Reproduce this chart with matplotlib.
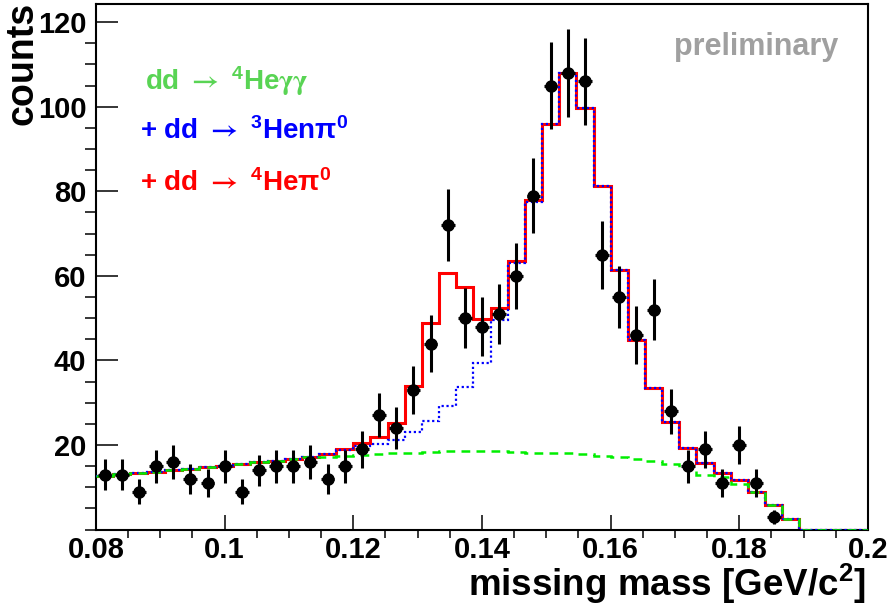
import numpy as np
import matplotlib
matplotlib.use("Agg")
import matplotlib.pyplot as plt
from matplotlib.ticker import MultipleLocator, FuncFormatter

plt.rcParams['font.family'] = ['Liberation Sans', 'DejaVu Sans']
plt.rcParams['font.weight'] = 'bold'
plt.rcParams['mathtext.fontset'] = 'custom'
plt.rcParams['mathtext.rm'] = 'Liberation Sans:bold'
plt.rcParams['mathtext.it'] = 'Liberation Sans:bold'
plt.rcParams['mathtext.bf'] = 'Liberation Sans:bold'
plt.rcParams['mathtext.sf'] = 'STIXGeneral'
plt.rcParams['mathtext.fallback'] = 'stix'

# binning: 45 bins between 0.08 and 0.2 GeV/c^2
x_min, x_max, n_bins = 0.08, 0.2, 45

# measured counts (first 40 bins, empty bins not drawn)
counts = [13, 13, 9, 15, 16, 12, 11, 15, 9, 14, 15, 15, 16, 12, 15, 19, 27, 24, 33, 44,
          72, 50, 48, 51, 60, 79, 105, 108, 106, 65, 55, 46, 52, 28, 15, 19, 11, 20, 11, 3]

# simulated contributions per bin
sim_he4_gg = [12.7, 13.1, 13.3, 13.7, 14.1, 14.4, 14.8, 15.0, 15.6, 15.9, 16.2, 16.6, 17.1,
              17.2, 17.3, 17.6, 17.8, 18.0, 18.2, 18.4, 18.6, 18.7, 18.7, 18.5, 18.3, 18.2,
              18.1, 18.0, 17.8, 17.4, 17.1, 16.7, 16.2, 15.5, 14.6, 12.9, 12.4, 10.8, 8.8,
              5.7, 2.5, 0, 0, 0, 0]
sim_he3_n_pi0 = [0, 0, 0, 0, 0, 0, 0, 0, 0, 0, 0, 0, 0,
                 0.6, 1.5, 2.2, 2.5, 3.2, 4.9, 7.3, 10.6, 15.1, 20.8, 31.1, 44.7, 59.3,
                 77.9, 89.9, 81.8, 63.9, 44.4, 28.1, 17.4, 10.0, 4.6, 2.8, 1.1, 0.9, 0,
                 0, 0, 0, 0, 0, 0]
sim_he4_pi0 = [0, 0, 0, 0, 0, 0, 0, 0, 0, 0, 0, 0, 0, 0,
               0.2, 0.6, 1.5, 4.1, 10.9, 23.2, 31.4, 23.6, 10.3, 2.7, 0.6, 0.4,
               0, 0, 0, 0, 0, 0, 0, 0, 0, 0, 0, 0, 0, 0, 0, 0, 0, 0, 0]

edges = np.linspace(x_min, x_max, n_bins + 1)
width = edges[1] - edges[0]
centers = 0.5 * (edges[:-1] + edges[1:])

gg = np.array(sim_he4_gg)
gg_hen = gg + np.array(sim_he3_n_pi0)
total = gg_hen + np.array(sim_he4_pi0)

W, H = 893, 609
fig = plt.figure(figsize=(W / 100, H / 100), dpi=100)
ax = fig.add_axes([96 / W, 1 - 529.6 / H, 772 / W, 525.6 / H])

ax.stairs(total, edges, baseline=None, color='#ff0000', lw=2.2, zorder=2)
ax.stairs(gg_hen, edges, baseline=None, color='#0000ff', lw=1.6,
          linestyle=(0, (1, 1.2)), zorder=3)
ax.stairs(gg, edges, baseline=None, color='#00ee00', lw=1.8,
          linestyle=(0, (3.5, 2.5)), zorder=4)

n = len(counts)
ax.errorbar(centers[:n], counts, yerr=np.sqrt(counts), xerr=0.4 * width,
            fmt='o', color='black', ms=8, elinewidth=2.2, capsize=0, zorder=5)

ax.set_xlim(x_min, x_max)
ax.set_ylim(0, 124.3)
ax.set_xticks(np.arange(0.08, 0.2001, 0.02))
ax.xaxis.set_minor_locator(MultipleLocator(0.005))
ax.set_yticks(np.arange(20, 121, 20))
ax.yaxis.set_minor_locator(MultipleLocator(5))
ax.xaxis.set_major_formatter(FuncFormatter(lambda v, _: f"{v:g}"))
ax.tick_params(direction='in', labelsize=21, width=1.1, top=False, right=False)
ax.tick_params(axis='x', which='major', length=11, pad=4.5)
ax.tick_params(axis='x', which='minor', length=5.5, width=1.1)
ax.tick_params(axis='y', which='major', length=16, pad=7)
ax.tick_params(axis='y', which='minor', length=8, width=1.1)
for s in ax.spines.values():
    s.set_linewidth(1.5)

fig.text(866 / W, 1 - 596 / H, r"missing mass [GeV/c$^{2}$]", ha='right',
         va='baseline', fontsize=26.5, fontweight='bold')
fig.text(22 / W, 1 - 2 / H, "counts", rotation=90, ha='center', va='top',
         fontsize=27, fontweight='bold')

fig.text(838 / W, 1 - 55 / H, "preliminary", ha='right', va='baseline',
         fontsize=22, color='#a0a0a0', fontweight='bold')
fig.text(145 / W, 1 - 90 / H, r"dd $\mathsf{\rightarrow}$ $^{4}$He$\mathsf{\gamma\gamma}$",
         color='#59d454', fontsize=20, fontweight='bold', va='baseline')
fig.text(140 / W, 1 - 139 / H, r"+ dd $\mathsf{\rightarrow}$ $^{3}$Hen$\pi^{0}$",
         color='#0000ff', fontsize=20, fontweight='bold', va='baseline')
fig.text(140 / W, 1 - 191 / H, r"+ dd $\mathsf{\rightarrow}$ $^{4}$He$\pi^{0}$",
         color='#ff0000', fontsize=20, fontweight='bold', va='baseline')

fig.savefig("out.png", dpi=100)
